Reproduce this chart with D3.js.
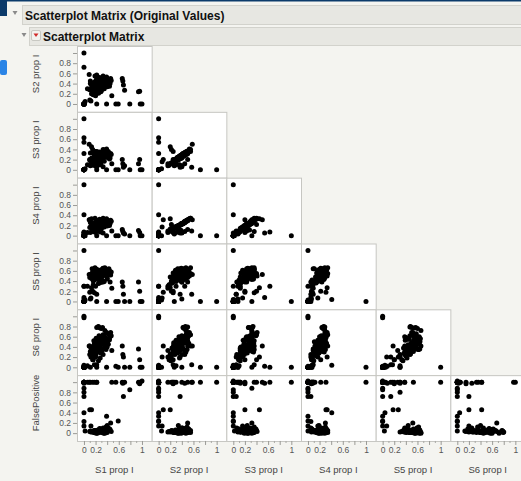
<!DOCTYPE html>
<html><head><meta charset="utf-8">
<script src="https://cdn.jsdelivr.net/npm/d3@7"></script>
<style>
body{margin:0;background:#f4f4f0;}
svg{display:block;font-family:"Liberation Sans",Arial,sans-serif;}
</style>
</head><body>
<svg id="c" width="521" height="481"></svg>
<script>
const mainTitle = "Scatterplot Matrix (Original Values)";
const subTitle = "Scatterplot Matrix";
const varNames = ["S1 prop I","S2 prop I","S3 prop I","S4 prop I","S5 prop I","S6 prop I","FalsePositive"];
const majorTicks = [0,0.2,0.4,0.6,0.8,1];
const minorTicks = [0.1,0.3,0.5,0.7,0.9];
const xTickLabels = ["0","0.2","","0.6","","1"];
const yTickLabels = ["0","0.2","0.4","0.6","0.8",""];

const S1 = [.12,.15,.18,.20,.22,.25,.28,.30,.32,.35,
 .38,.40,.42,.45,.10,.14,.16,.20,.24,.27,
 .29,.31,.33,.36,.22,.25,.28,.30,.24,.32,
 .18,.21,.26,.34,.37,.41,.44,.13,.17,.23,
 .27,.33,.39,.19,.11,.35,.30,.26,.21,.43,
 .47,.28,.33,.16,.20,.25,.29,.38,.14,.19,
 .46,.40,.31,.36,.23,.18,.34,.27,.21,.42,
 0,0,0,0,0,1.0,
 0,0,0,0,0,0,0,0,0,0,.02,
 .66,.67,.68,.70,.94,.96,.48,.39,.59,.55,.79,.97,
 .09,.12,.10,.13,.15,.18,.06,.11,.22,.22];
const S2 = [.30,.35,.40,.45,.50,.33,.38,.42,.47,.52,
 .36,.44,.48,.40,.28,.25,.22,.26,.29,.31,
 .34,.37,.39,.41,.43,.46,.48,.44,.50,.42,
 .32,.36,.40,.45,.50,.38,.35,.37,.42,.47,
 .52,.55,.53,.55,.45,.30,.26,.23,.20,.43,
 .46,.36,.40,.18,.16,.21,.24,.49,.33,.38,
 .50,.34,.29,.47,.33,.28,.35,.44,.39,.41,
 1.0,0,0,0,0,0,
 .72,0,0,0,0,0,0,0,0,0,.05,
 .50,.45,.37,.27,.24,.25,.16,0,0,0,0,0,
 .58,.06,.08,.20,.22,.25,.30,.40,.57,0];
const S3 = [.21,.21,.30,.28,.36,.24,.22,.31,.31,.39,
 .27,.28,.36,.23,.19,.13,.14,.19,.16,.22,
 .19,.27,.25,.31,.27,.34,.30,.31,.33,.26,
 .24,.22,.29,.34,.32,.28,.21,.22,.32,.35,
 .35,.40,.41,.36,.33,.17,.18,.12,.12,.32,
 .30,.10,.06,.09,.08,.12,.13,.36,.23,.28,
 .32,.24,.20,.32,.19,.19,.26,.32,.24,.29,
 0,1.0,0,0,0,0,
 0,.63,.54,0,.32,0,0,0,0,0,.02,
 .20,.12,.05,.08,.12,.20,.12,0,0,0,0,0,
 .50,.16,.20,.45,.40,.36,.10,.08,.05,0];
const S4 = [.18,.20,.23,.26,.30,.19,.22,.24,.28,.32,
 .21,.25,.29,.24,.16,.15,.14,.16,.17,.18,
 .20,.21,.22,.24,.25,.27,.28,.26,.29,.24,
 .19,.21,.23,.27,.31,.22,.20,.21,.25,.28,
 .32,.34,.33,.34,.26,.17,.15,.14,.13,.25,
 .28,.07,.05,.08,.06,.10,.11,.30,.09,.11,
 .30,.19,.16,.29,.18,.16,.20,.27,.24,.23,
 0,0,1.0,0,0,0,
 0,.07,.05,.41,0,0,0,0,.05,0,0,
 .12,.08,.05,.03,.10,.06,.09,0,0,0,0,0,
 .31,.17,.31,.33,.22,.08,.06,.06,.09,0];
const S5 = [.52,.44,.60,.50,.63,.58,.41,.55,.64,.53,
 .62,.46,.58,.38,.47,.56,.40,.50,.61,.45,
 .54,.49,.65,.52,.57,.48,.54,.60,.47,.50,
 .42,.56,.47,.62,.57,.53,.60,.45,.59,.44,
 .61,.55,.50,.66,.53,.39,.44,.36,.48,.64,
 .58,.42,.38,.33,.30,.35,.37,.62,.64,.64,
 .52,.44,.41,.66,.57,.51,.63,.43,.55,.59,
 0,0,0,1.0,0,0,
 0,.30,.08,.04,0,.30,0,0,0,0,.03,
 .38,.30,.14,0,.38,.20,.26,0,0,0,0,0,
 .53,.07,.18,.27,.20,.17,.30,.05,.14,0];
const S6 = [.38,.30,.46,.33,.52,.44,.58,.36,.50,.62,
 .45,.55,.66,.60,.25,.40,.22,.48,.35,.42,
 .52,.46,.56,.40,.78,.80,.77,.76,.79,.78,
 .28,.40,.62,.48,.58,.50,.54,.34,.52,.30,
 .47,.64,.68,.42,.31,.53,.44,.38,.26,.57,
 .62,.18,.25,.15,.20,.13,.28,.35,.36,.50,
 .68,.40,.33,.72,.45,.39,.60,.55,.57,.45,
 0,0,0,0,1.0,0,
 0,0,.02,.04,0,0,.97,0,0,0,0,
 .42,.25,.20,0,.36,.15,.33,0,0,.02,0,0,
 .42,.20,.42,.20,.15,.05,.03,0,.05,0];
const FalsePositive = [.02,.03,.01,.04,.05,.02,.06,.03,.02,.08,
 .04,.01,.05,.07,.03,.02,.04,.01,.06,.02,
 .03,.05,.02,.04,.03,.02,.05,.03,.01,.04,
 .05,.02,.06,.03,.01,.04,.08,.03,.02,.04,
 .02,.05,.03,.01,.04,.02,.03,.05,.02,.06,
 .03,.08,.10,.03,.02,.04,.02,.12,.03,.05,
 .20,.15,.01,.00,.00,.01,.00,.09,.00,.10,
 1.0,1.0,1.0,1.0,1.0,1.02,
 1.0,1.0,.98,.40,.88,.80,1.0,.72,.23,.14,.04,
 1.0,.98,.72,1.0,1.0,.97,1.0,.33,.24,1.0,.85,1.0,
 1.0,.14,.46,.46,1.0,1.0,1.0,1.0,1.0,1.0];

const columns = [S1,S2,S3,S4,S5,S6,FalsePositive];

const W = 521, H = 481;
const svg = d3.select("#c");
const navy = "#0b3a6a";

// header decorations
svg.append("rect").attr("x",0).attr("y",0).attr("width",W).attr("height",1.5).attr("fill",navy);
svg.append("rect").attr("x",0).attr("y",0).attr("width",7).attr("height",16).attr("fill",navy);
svg.append("rect").attr("x",0).attr("y",60).attr("width",7).attr("height",15).attr("rx",2).attr("fill","#2a84e6");

svg.append("rect").attr("x",22.5).attr("y",5.5).attr("width",W-22).attr("height",19)
  .attr("fill","#e7e7e2").attr("stroke","#d2d2cc");
svg.append("path").attr("d","M12.5,11 L17.5,11 L15,15 Z").attr("fill","#8a8a8a");
svg.append("text").attr("x",25).attr("y",20).attr("font-size",12).attr("font-weight","bold")
  .attr("fill","#111").text(mainTitle);

svg.append("rect").attr("x",29.5).attr("y",27.5).attr("width",W-29).attr("height",18)
  .attr("fill","#e7e7e2").attr("stroke","#d2d2cc");
svg.append("path").attr("d","M21.5,33 L26.5,33 L24,37 Z").attr("fill","#8a8a8a");
svg.append("rect").attr("x",31.5).attr("y",30.5).attr("width",9).attr("height",10).attr("rx",1.5)
  .attr("fill","#f2f2ef").attr("stroke","#c8c8c2");
svg.append("path").attr("d","M33.5,33.5 L38.5,33.5 L36,37 Z").attr("fill","#d02a2a");
svg.append("text").attr("x",43).attr("y",41).attr("font-size",12).attr("font-weight","bold")
  .attr("fill","#111").text(subTitle);

// grid
const gridLeft = 77, cellW = 74.67, gridTop = 46, cellH = 65.83, nCells = 6;
const colBand = d3.scaleBand().domain(d3.range(nCells)).range([gridLeft, gridLeft + nCells*cellW]);
const rowBand = d3.scaleBand().domain(d3.range(nCells)).range([gridTop, gridTop + nCells*cellH]);
const xDomain = [-0.12, 1.167], yDomain = [-0.154, 1.137];

const xScales = d3.range(nCells).map(c => d3.scaleLinear().domain(xDomain)
  .range([colBand(c), colBand(c)+colBand.bandwidth()]));
const yScales = d3.range(nCells).map(r => d3.scaleLinear().domain(yDomain)
  .range([rowBand(r)+rowBand.bandwidth(), rowBand(r)]));

for (let r = 0; r < nCells; r++) {
  for (let c = 0; c <= r; c++) {
    const xs = xScales[c], ys = yScales[r];
    const g = svg.append("g");
    g.append("rect").attr("x",colBand(c)+0.5).attr("y",rowBand(r)+0.5)
      .attr("width",colBand.bandwidth()).attr("height",rowBand.bandwidth())
      .attr("fill","#ffffff").attr("stroke","#c6c6c2").attr("stroke-width",1);
    const xv = columns[c], yv = columns[r+1];
    g.selectAll("circle").data(d3.range(xv.length)).join("circle")
      .attr("cx", i => xs(xv[i])).attr("cy", i => ys(yv[i]))
      .attr("r", 2.5).attr("fill","#000");
  }
}

// y axes
for (let r = 0; r < nCells; r++) {
  const ax = svg.append("g").attr("transform",`translate(${gridLeft},0)`)
    .call(d3.axisLeft(yScales[r]).tickValues(majorTicks).tickSize(4).tickPadding(2)
      .tickFormat((d,i) => yTickLabels[i]));
  ax.select(".domain").remove();
  ax.selectAll("line").attr("stroke","#9a9a96");
  ax.selectAll("text").attr("font-size",8.5).attr("fill","#555").attr("font-family","Liberation Sans, Arial, sans-serif");
  const cy = rowBand(r) + rowBand.bandwidth()/2 - 5;
  svg.append("text").attr("transform",`translate(35,${cy}) rotate(-90)`)
    .attr("text-anchor","middle").attr("dominant-baseline","central")
    .attr("font-size",9.5).attr("fill","#444").text(varNames[r+1]);
}

// x axes
const bottom = gridTop + nCells*cellH;
for (let c = 0; c < nCells; c++) {
  const ax = svg.append("g").attr("transform",`translate(0,${bottom})`)
    .call(d3.axisBottom(xScales[c]).tickValues(majorTicks).tickSize(4).tickPadding(2)
      .tickFormat((d,i) => xTickLabels[i]));
  ax.select(".domain").remove();
  ax.selectAll("line").attr("stroke","#9a9a96");
  ax.selectAll("text").attr("font-size",8.5).attr("fill","#555").attr("font-family","Liberation Sans, Arial, sans-serif");
  const mx = svg.append("g").attr("transform",`translate(0,${bottom})`)
    .call(d3.axisBottom(xScales[c]).tickValues(minorTicks).tickSize(2).tickFormat(""));
  mx.select(".domain").remove();
  mx.selectAll("line").attr("stroke","#a8a8a4");
  svg.append("text").attr("x", colBand(c)+colBand.bandwidth()/2).attr("y", 473)
    .attr("text-anchor","middle").attr("font-size",9.5).attr("fill","#444").text(varNames[c]);
}
</script>
</body></html>
